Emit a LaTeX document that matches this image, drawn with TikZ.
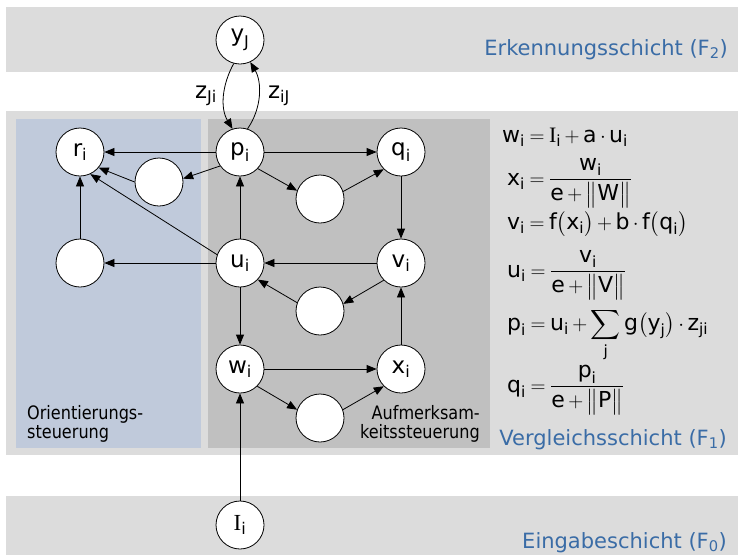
\documentclass[tikz,border=0pt]{standalone}
\usepackage{amsmath}
\usepackage{fontspec}
\setmainfont{DejaVu Sans}[FakeStretch=0.87]
\newfontfamily\widefont{DejaVu Sans}
\newfontfamily\serifI{Liberation Serif}
\usetikzlibrary{arrows.meta}
\definecolor{lgray}{HTML}{DCDCDC}
\definecolor{dgray}{HTML}{C0C0C0}
\definecolor{pblue}{HTML}{C0CADB}
\definecolor{tblue}{HTML}{3A6CA6}
\newcommand\vi[2]{\text{#1}_{\text{#2}}}
\newcommand\lab[2]{$\vi{#1}{#2}$}
\begin{document}
\thickmuskip=4mu
\medmuskip=3mu
\begin{tikzpicture}[x=1pt,y=-1pt,
 neuron/.style={circle,draw,fill=white,minimum size=48pt,inner sep=0pt,line width=0.8pt,font=\widefont\fontsize{23}{25}\selectfont},
 arr/.style={-{Triangle[length=10pt,width=8pt]},line width=0.8pt},
 layer/.style={font=\widefont\fontsize{21}{24}\selectfont,text=tblue,anchor=base east,inner sep=0pt},
 note/.style={font=\fontsize{18.5}{20}\selectfont,inner sep=0pt},
 formula/.style={font=\widefont\fontsize{22}{25}\selectfont,inner sep=0pt,anchor=base west},
 zlab/.style={font=\widefont\fontsize{23}{25}\selectfont,inner sep=0pt}]
\useasboundingbox (0,0) rectangle (738,555);
% layer bands
\fill[lgray] (6,7) rectangle (738,72);
\fill[lgray] (6,111) rectangle (738,455);
\fill[pblue] (16,119) rectangle (201,448);
\fill[dgray] (208,119) rectangle (490,448);
\fill[lgray] (6,496) rectangle (738,555);
% neurons
\node[neuron] (yJ) at (240,40) {\lab{y}{J}};
\node[neuron] (r) at (80,152) {\lab{r}{i}};
\node[neuron] (p) at (240,152) {\lab{p}{i}};
\node[neuron] (q) at (401,152) {\lab{q}{i}};
\node[neuron] (A) at (159,182) {};
\node[neuron] (B) at (320,199) {};
\node[neuron] (L) at (80,263) {};
\node[neuron] (u) at (240,263) {\lab{u}{i}};
\node[neuron] (v) at (401,263) {\lab{v}{i}};
\node[neuron] (C) at (320,311) {};
\node[neuron] (w) at (240,369) {\lab{w}{i}};
\node[neuron] (x) at (401,369) {\lab{x}{i}};
\node[neuron] (D) at (320,418) {};
\node[neuron] (I) at (240,525) {$\vi{\serifI I}{i}$};
% connectors
\draw[arr] (p) -- (r);
\draw[arr] (p.-145) -- (A.8);
\draw[arr] (A.west) -- (r.-40);
\draw[arr] (u.160) -- (r.-65);
\draw[arr] (L) -- (r);
\draw[arr] (u) -- (L);
\draw[arr] (u) -- (p);
\draw[arr] (p) -- (q);
\draw[arr] (p.-43) -- (B.160);
\draw[arr] (B.18) -- (q.-135);
\draw[arr] (q) -- (v);
\draw[arr] (v) -- (u);
\draw[arr] (v.-135) -- (C.17);
\draw[arr] (C.160) -- (u.-43);
\draw[arr] (u) -- (w);
\draw[arr] (w) -- (x);
\draw[arr] (w.-45) -- (D.160);
\draw[arr] (D.20) -- (x.-135);
\draw[arr] (x) -- (v);
\draw[arr] (I) -- (w);
\draw[arr] (yJ.-105) .. controls (222,85) and (220,108) .. (p.108);
\draw[arr] (p.72) .. controls (262,108) and (262,82) .. (yJ.-65);
\node[zlab] (zJi) at (206,96) {\lab{z}{Ji}};
\node[zlab] (ziJ) at (279,96) {\lab{z}{iJ}};
% layer names
\node[layer] (t2) at (728,55) {Erkennungsschicht (F$_{\text{2}}$)};
\node[layer] (t1) at (727,445) {Vergleichsschicht (F$_{\text{1}}$)};
\node[layer] (t0) at (727,548) {Eingabeschicht (F$_{\text{0}}$)};
% region notes
\node[note,anchor=base west] (o1) at (27,419) {Orientierungs-};
\node[note,anchor=base west] (o2) at (27,438) {steuerung};
\node[note,anchor=base east] (a1) at (480,419) {Aufmerksam-};
\node[note,anchor=base east] (a2) at (480,438) {keitssteuerung};
% formulas
\node[formula] (f1) at (502,142) {$\vi{w}{i} = \vi{\serifI I}{i} + \text{a}\cdot\vi{u}{i}$};
\node[formula] (f2) at (507,185) {$\vi{x}{i} = \dfrac{\vi{w}{i}}{\text{e} + \bigl\|\text{W}\bigr\|}$};
\node[formula] (f3) at (507,229) {$\vi{v}{i} = \text{f}\bigl(\vi{x}{i}\bigr) + \text{b}\cdot\text{f}\bigl(\vi{q}{i}\bigr)$};
\node[formula] (f4) at (507,277) {$\vi{u}{i} = \dfrac{\vi{v}{i}}{\text{e}+\bigl\|\text{V}\bigr\|}$};
\node[formula] (f5) at (507,330) {$\vi{p}{i} = \vi{u}{i} + \displaystyle\sum_{\text{j}} \text{g}\bigl(\vi{y}{j}\bigr)\cdot\vi{z}{ji}$};
\node[formula] (f6) at (507,392) {$\vi{q}{i} = \dfrac{\vi{p}{i}}{\text{e}+\bigl\|\text{P}\bigr\|}$};
\end{tikzpicture}
\end{document}
